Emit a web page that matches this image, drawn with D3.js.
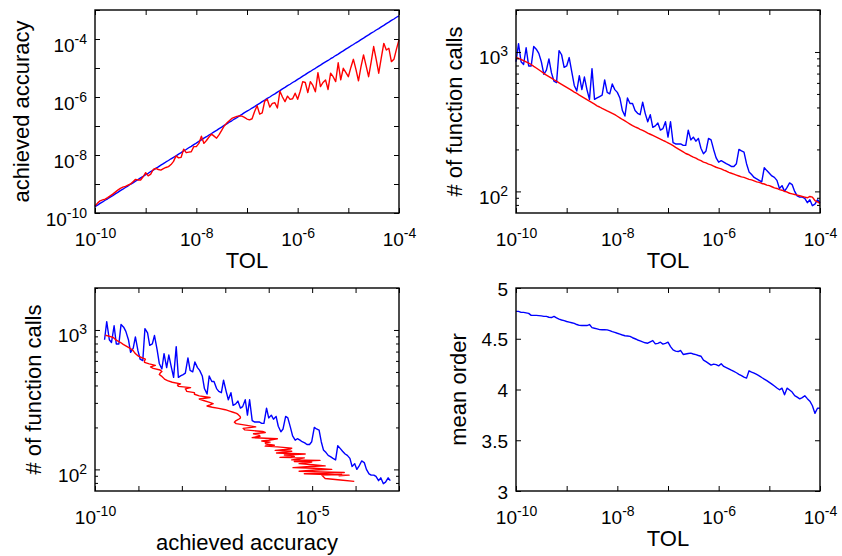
<!DOCTYPE html>
<html>
<head>
<meta charset="utf-8">
<script src="https://cdn.jsdelivr.net/npm/d3@7"></script>
<style>
body { margin: 0; background: #fff; }
svg { font-family: Arial, "Liberation Sans", Helvetica, sans-serif; }
</style>
</head>
<body>
<div id="chart"></div>
<script>
// TOL values (log10), shared by every panel
var tolExp = [
 -10,-9.95,-9.9,-9.85,-9.8,-9.75,-9.7,-9.65,-9.6,-9.55,
 -9.5,-9.45,-9.4,-9.35,-9.3,-9.25,-9.2,-9.15,-9.1,-9.05,
 -9,-8.95,-8.9,-8.85,-8.8,-8.75,-8.7,-8.65,-8.6,-8.55,
 -8.5,-8.45,-8.4,-8.35,-8.3,-8.25,-8.2,-8.15,-8.1,-8.05,
 -8,-7.95,-7.9,-7.85,-7.8,-7.75,-7.7,-7.65,-7.6,-7.55,
 -7.5,-7.45,-7.4,-7.35,-7.3,-7.25,-7.2,-7.15,-7.1,-7.05,
 -7,-6.95,-6.9,-6.85,-6.8,-6.75,-6.7,-6.65,-6.6,-6.55,
 -6.5,-6.45,-6.4,-6.35,-6.3,-6.25,-6.2,-6.15,-6.1,-6.05,
 -6,-5.95,-5.9,-5.85,-5.8,-5.75,-5.7,-5.65,-5.6,-5.55,
 -5.5,-5.45,-5.4,-5.35,-5.3,-5.25,-5.2,-5.15,-5.1,-5.05,
 -5,-4.95,-4.9,-4.85,-4.8,-4.75,-4.7,-4.65,-4.6,-4.55,
 -4.5,-4.45,-4.4,-4.35,-4.3,-4.25,-4.2,-4.15,-4.1,-4.05,
 -4]

// achieved accuracy (log10), blue method
var accBlueExp = [
 -9.78,-9.73,-9.67,-9.62,-9.56,-9.51,-9.45,-9.40,-9.34,-9.29,
 -9.23,-9.18,-9.12,-9.07,-9.01,-8.96,-8.90,-8.85,-8.79,-8.74,
 -8.68,-8.63,-8.57,-8.52,-8.46,-8.41,-8.35,-8.30,-8.24,-8.19,
 -8.13,-8.08,-8.03,-7.97,-7.92,-7.86,-7.81,-7.75,-7.70,-7.64,
 -7.59,-7.53,-7.48,-7.42,-7.37,-7.31,-7.26,-7.20,-7.15,-7.09,
 -7.04,-6.98,-6.93,-6.87,-6.82,-6.76,-6.71,-6.65,-6.60,-6.54,
 -6.49,-6.44,-6.38,-6.33,-6.27,-6.22,-6.16,-6.11,-6.05,-6.00,
 -5.94,-5.89,-5.83,-5.78,-5.72,-5.67,-5.61,-5.56,-5.50,-5.45,
 -5.39,-5.34,-5.28,-5.23,-5.17,-5.12,-5.06,-5.01,-4.95,-4.90,
 -4.84,-4.79,-4.74,-4.68,-4.63,-4.57,-4.52,-4.46,-4.41,-4.35,
 -4.30,-4.24,-4.19,-4.13,-4.08,-4.02,-3.97,-3.91,-3.86,-3.80,
 -3.75,-3.69,-3.64,-3.58,-3.53,-3.47,-3.42,-3.36,-3.31,-3.25,
 -3.20]

// achieved accuracy (log10), red method
var accRedExp = [
 -9.76,-9.66,-9.58,-9.55,-9.52,-9.47,-9.41,-9.35,-9.28,-9.21,
 -9.15,-9.11,-9.08,-9.04,-9.00,-8.92,-8.84,-8.86,-8.86,-8.75,
 -8.61,-8.72,-8.66,-8.50,-8.46,-8.50,-8.52,-8.47,-8.43,-8.40,
 -8.33,-8.22,-8.03,-8.10,-8.08,-7.80,-7.92,-7.90,-7.89,-7.71,
 -7.71,-7.60,-7.35,-7.60,-7.50,-7.38,-7.28,-7.35,-7.42,-7.30,
 -7.15,-7.00,-6.90,-6.82,-6.74,-6.70,-6.67,-6.65,-6.66,-6.70,
 -6.76,-6.79,-6.75,-6.50,-6.30,-6.59,-6.55,-6.14,-6.08,-6.35,
 -6.22,-6.20,-6.38,-5.80,-6.00,-6.16,-5.97,-6.08,-6.06,-5.87,
 -6.08,-5.80,-5.47,-5.50,-5.85,-5.47,-5.60,-5.82,-5.16,-5.64,
 -5.50,-5.41,-5.74,-5.18,-5.30,-5.47,-4.82,-5.41,-5.01,-5.15,
 -5.30,-4.98,-4.70,-5.05,-5.44,-4.95,-4.55,-4.92,-5.30,-4.80,
 -4.26,-4.70,-5.18,-4.65,-4.15,-4.38,-4.32,-4.78,-4.70,-4.35,
 -4.03]

// number of function calls
var callsBlue = [
 851,1148,851,813,1072,794,794,1096,1047,977,
 851,692,741,891,708,617,603,1023,955,776,
 794,912,724,575,525,676,537,661,537,457,
 759,457,468,479,490,631,513,501,589,537,
 513,468,380,347,468,427,427,380,363,355,
 437,363,316,355,288,295,309,275,282,316,
 245,316,224,219,219,219,214,214,275,234,
 245,229,240,204,186,195,240,234,200,174,
 162,166,162,158,155,151,151,158,200,195,
 191,158,138,132,126,123,120,117,148,141,
 135,129,126,120,105,110,100,107,115,112,
 100,93,91,91,89,83,87,79,81,87,
 83]

var callsRed = [
 916,899,883,867,849,832,813,789,767,745,
 724,703,682,665,649,632,617,601,586,571,
 557,543,530,516,504,491,479,467,455,444,
 433,422,411,403,394,386,378,371,363,355,
 346,337,328,320,312,304,296,290,285,279,
 274,268,262,257,252,247,242,237,232,228,
 223,218,213,207,202,197,192,187,184,180,
 176,173,169,166,162,160,157,155,152,149,
 147,145,142,140,137,135,133,131,129,127,
 126,124,122,121,119,117,116,114,113,111,
 110,108,106,105,103,102,100,99,97,96,
 95,94,93,92,91,90,92,91,86,84,
 82]

// mean order, blue method
var meanOrder = [
 4.77,4.77,4.76,4.76,4.755,4.75,4.73,4.73,4.73,4.728,
 4.725,4.72,4.72,4.712,4.709,4.72,4.705,4.693,4.685,4.678,
 4.67,4.664,4.658,4.652,4.64,4.632,4.63,4.63,4.63,4.64,
 4.61,4.603,4.597,4.59,4.588,4.588,4.587,4.58,4.57,4.563,
 4.554,4.546,4.537,4.53,4.527,4.523,4.51,4.5,4.488,4.479,
 4.469,4.46,4.456,4.47,4.482,4.45,4.455,4.466,4.447,4.455,
 4.466,4.423,4.39,4.378,4.374,4.384,4.345,4.35,4.355,4.358,
 4.35,4.343,4.335,4.328,4.29,4.275,4.258,4.24,4.25,4.245,
 4.233,4.253,4.227,4.215,4.203,4.19,4.178,4.165,4.15,4.137,
 4.122,4.112,4.184,4.172,4.161,4.148,4.135,4.118,4.102,4.087,
 4.07,4.053,4.035,4.015,3.997,4.013,3.948,4.013,3.995,3.975,
 3.94,3.925,3.908,3.92,3.938,3.91,3.885,3.84,3.765,3.815,
 3.817]

// tick values
var decadesTol = [1e-10,1e-9,1e-8,1e-7,1e-6,1e-5,1e-4]
var labelsTol = [1e-10,1e-8,1e-6,1e-4]
var decadesAcc = [1e-10,1e-9,1e-8,1e-7,1e-6,1e-5,1e-4,1e-3]
var labelsAccY = [1e-10,1e-8,1e-6,1e-4]
var labelsAccX = [1e-10,1e-5]
var callsMajor = [100,1000]
var callsMinor = [80,90,200,300,400,500,600,700,800,900,2000]
var orderTicks = [3,3.5,4,4.5,5]

var W = 304, H = 203
var tickLen = 5, minorLen = 3
var tickFont = 19, supFont = 14, labelFont = 22

var svg = d3.select('#chart').append('svg')
	.attr('width', 842)
	.attr('height', 556)

function translate(x, y) {
	return 'translate(' + x + ',' + y + ')'
}

// writes 10 with a raised exponent
function powText(el, d) {
	var e = Math.round(Math.log10(d))
	el.text('10')
	el.append('tspan')
		.attr('dy', -8)
		.style('font-size', supFont + 'px')
		.text(e)
}

function tickMarks(g, x, y, xt, yt, len) {
	g.append('g').attr('transform', translate(0, H))
		.call(d3.axisBottom(x).tickValues(xt).tickSize(-len).tickFormat(''))
	g.append('g')
		.call(d3.axisTop(x).tickValues(xt).tickSize(-len).tickFormat(''))
	g.append('g')
		.call(d3.axisLeft(y).tickValues(yt).tickSize(-len).tickFormat(''))
	g.append('g').attr('transform', translate(W, 0))
		.call(d3.axisRight(y).tickValues(yt).tickSize(-len).tickFormat(''))
}

function panel(o) {
	var g = svg.append('g').attr('transform', translate(o.left, o.top))
	var x = o.x.range([0, W])
	var y = o.y.range([H, 0])

	var line = d3.line()
		.x(function(d) { return x(d[0]) })
		.y(function(d) { return y(d[1]) })

	o.series.forEach(function(s) {
		g.append('path')
			.datum(s.pts)
			.attr('d', line)
			.attr('fill', 'none')
			.attr('stroke', s.color)
			.attr('stroke-width', 1.4)
			.attr('stroke-linejoin', 'round')
	})

	tickMarks(g, x, y, o.xTicks, o.yTicks, tickLen)
	if (o.yMinor) tickMarks(g, x, y, [], o.yMinor, minorLen)
	g.selectAll('.domain').remove()
	g.selectAll('.tick line').attr('stroke', '#000').attr('stroke-width', 1)

	g.append('rect')
		.attr('width', W).attr('height', H)
		.attr('fill', 'none')
		.attr('stroke', '#000')
		.attr('stroke-width', 1.4)

	// x tick labels
	var xl = g.append('g').attr('transform', translate(0, H))
		.call(d3.axisBottom(x).tickValues(o.xLabels).tickSize(0))
	xl.select('.domain').remove()
	xl.attr('font-size', null).attr('font-family', null)
	xl.selectAll('text')
		.attr('y', 33).attr('dy', null)
		.style('font-size', tickFont + 'px')
		.attr('fill', '#000')
		.each(function(d) { powText(d3.select(this), d) })

	// y tick labels
	var yl = g.append('g')
		.call(d3.axisLeft(y).tickValues(o.yLabels).tickSize(0).tickPadding(8))
	yl.select('.domain').remove()
	yl.attr('font-size', null).attr('font-family', null)
	yl.selectAll('text')
		.attr('dy', null)
		.attr('y', o.yLog ? 12 : 7)
		.style('font-size', tickFont + 'px')
		.attr('fill', '#000')
		.each(function(d) {
			if (o.yLog) powText(d3.select(this), d)
			else d3.select(this).text(d)
		})

	// axis titles
	g.append('text')
		.attr('x', W / 2)
		.attr('y', H + o.xTitleY)
		.attr('text-anchor', 'middle')
		.style('font-size', labelFont + 'px')
		.text(o.xTitle)

	g.append('text')
		.attr('transform', translate(o.yTitleX, H / 2) + ' rotate(-90)')
		.attr('text-anchor', 'middle')
		.style('font-size', labelFont + 'px')
		.text(o.yTitle)
}

function pairs(a, b) {
	return a.map(function(v, i) { return [v, b[i]] })
}
function pow10(a) {
	return a.map(function(v) { return Math.pow(10, v) })
}

var tol = pow10(tolExp)
var accBlue = pow10(accBlueExp)
var accRed = pow10(accRedExp)

// top left: achieved accuracy vs TOL
panel({
	left: 95, top: 10,
	x: d3.scaleLog().domain([1e-10, 1e-4]),
	y: d3.scaleLog().domain([1e-10, 1e-3]),
	xTicks: decadesTol, yTicks: decadesAcc,
	xLabels: labelsTol, yLabels: labelsAccY, yLog: true,
	xTitle: 'TOL', xTitleY: 55,
	yTitle: 'achieved accuracy', yTitleX: -66,
	series: [
		{ pts: pairs(tol, accBlue), color: '#0000ff' },
		{ pts: pairs(tol, accRed), color: '#ff0000' }
	]
})

// top right: function calls vs TOL
panel({
	left: 516, top: 10,
	x: d3.scaleLog().domain([1e-10, 1e-4]),
	y: d3.scaleLog().domain([70, 2000]),
	xTicks: decadesTol, yTicks: callsMajor, yMinor: callsMinor,
	xLabels: labelsTol, yLabels: callsMajor, yLog: true,
	xTitle: 'TOL', xTitleY: 55,
	yTitle: '# of function calls', yTitleX: -54,
	series: [
		{ pts: pairs(tol, callsBlue), color: '#0000ff' },
		{ pts: pairs(tol, callsRed), color: '#ff0000' }
	]
})

// bottom left: function calls vs achieved accuracy
panel({
	left: 95, top: 288,
	x: d3.scaleLog().domain([1e-10, 1e-3]),
	y: d3.scaleLog().domain([70, 2000]),
	xTicks: decadesAcc, yTicks: callsMajor, yMinor: callsMinor,
	xLabels: labelsAccX, yLabels: callsMajor, yLog: true,
	xTitle: 'achieved accuracy', xTitleY: 59,
	yTitle: '# of function calls', yTitleX: -54,
	series: [
		{ pts: pairs(accBlue, callsBlue), color: '#0000ff' },
		{ pts: pairs(accRed, callsRed), color: '#ff0000' }
	]
})

// bottom right: mean order vs TOL
panel({
	left: 516, top: 288,
	x: d3.scaleLog().domain([1e-10, 1e-4]),
	y: d3.scaleLinear().domain([3, 5]),
	xTicks: decadesTol, yTicks: orderTicks,
	xLabels: labelsTol, yLabels: orderTicks, yLog: false,
	xTitle: 'TOL', xTitleY: 55,
	yTitle: 'mean order', yTitleX: -50,
	series: [
		{ pts: pairs(tol, meanOrder), color: '#0000ff' }
	]
})
</script>
</body>
</html>
